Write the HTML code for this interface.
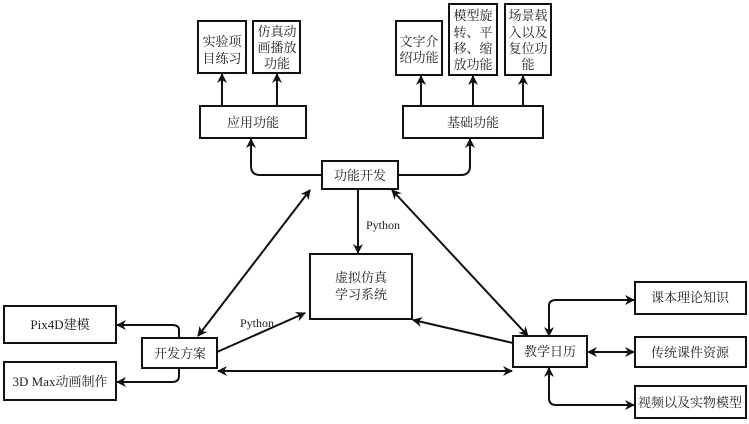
<!DOCTYPE html>
<html><head><meta charset="utf-8"><style>
body{margin:0;background:#fff}
svg{display:block}
text{font-family:"Liberation Serif","Noto Serif CJK SC","Noto Sans CJK SC",serif;fill:#222}
.b{fill:#fff;stroke:#111;stroke-width:2}
.l{fill:none;stroke:#111;stroke-width:2}
</style></head><body>
<svg width="749" height="424" viewBox="0 0 749 424">
<defs>
<marker id="a" viewBox="0 0 10 10" refX="9" refY="5" markerWidth="5" markerHeight="5" orient="auto-start-reverse"><path d="M0,0L10,5L0,10L3,5z" fill="#111"/></marker>
</defs>
<g class="l" marker-end="url(#a)">
<path d="M222,106V74"/><path d="M277,106V74"/>
<path d="M421,106V76"/><path d="M473,106V76"/><path d="M523,106V76"/>
<path d="M322,175H260Q251,175 251,166V139"/>
<path d="M398,175H461Q470,175 470,166V139"/>
<path d="M358,189V253"/>
<path d="M310,190L198,336" marker-start="url(#a)"/>
<path d="M392,190L528,336" marker-start="url(#a)"/>
<path d="M217,352L305,313"/>
<path d="M513,343L413,320"/>
<path d="M218,371H512" marker-start="url(#a)"/>
<path d="M179,338V330Q179,325 172,325H117"/>
<path d="M179,368V376Q179,382 172,382H117"/>
<path d="M549,336V306Q549,300 556,300H634" marker-start="url(#a)"/>
<path d="M588,352H634" marker-start="url(#a)"/>
<path d="M549,368V398Q549,405 556,405H634" marker-start="url(#a)"/>
</g>
<rect class="b" x="198" y="21" width="48" height="52"/>
<rect class="b" x="253" y="21" width="47" height="52"/>
<rect class="b" x="200" y="106" width="106" height="32"/>
<rect class="b" x="396" y="21" width="46" height="54"/>
<rect class="b" x="449" y="4" width="48" height="71"/>
<rect class="b" x="505" y="4" width="46" height="71"/>
<rect class="b" x="403" y="106" width="140" height="32"/>
<rect class="b" x="322" y="161" width="76" height="28"/>
<rect class="b" x="310" y="254" width="102" height="65"/>
<rect class="b" x="4" y="306" width="112" height="37"/>
<rect class="b" x="4" y="362" width="112" height="38"/>
<rect class="b" x="142" y="338" width="75" height="30"/>
<rect class="b" x="513" y="336" width="74" height="31"/>
<rect class="b" x="635" y="282" width="111" height="32"/>
<rect class="b" x="635" y="337" width="111" height="30"/>
<rect class="b" x="635" y="386" width="111" height="32"/>
<g font-size="13" text-anchor="middle">
<text x="222" y="46">实验项</text><text x="222" y="63">目练习</text>
<text x="277" y="36">仿真动</text><text x="277" y="52">画播放</text><text x="277" y="68">功能</text>
<text x="253" y="127">应用功能</text>
<text x="419" y="46">文字介</text><text x="419" y="62">绍功能</text>
<text x="473" y="20">模型旋</text><text x="473" y="37">转、平</text><text x="473" y="53">移、缩</text><text x="473" y="69">放功能</text>
<text x="528" y="20">场景载</text><text x="528" y="37">入以及</text><text x="528" y="53">复位功</text><text x="528" y="69">能</text>
<text x="473" y="127">基础功能</text>
<text x="360" y="180">功能开发</text>
<text x="383" y="229" font-size="12">Python</text>
<text x="361" y="282">虚拟仿真</text><text x="361" y="299">学习系统</text>
<text x="257" y="327" font-size="12">Python</text>
<text x="60" y="329">Pix4D建模</text>
<text x="60" y="386">3D Max动画制作</text>
<text x="180" y="358">开发方案</text>
<text x="550" y="356">教学日历</text>
<text x="690" y="302">课本理论知识</text>
<text x="690" y="357">传统课件资源</text>
<text x="690" y="407">视频以及实物模型</text>
</g>
</svg>
</body></html>
